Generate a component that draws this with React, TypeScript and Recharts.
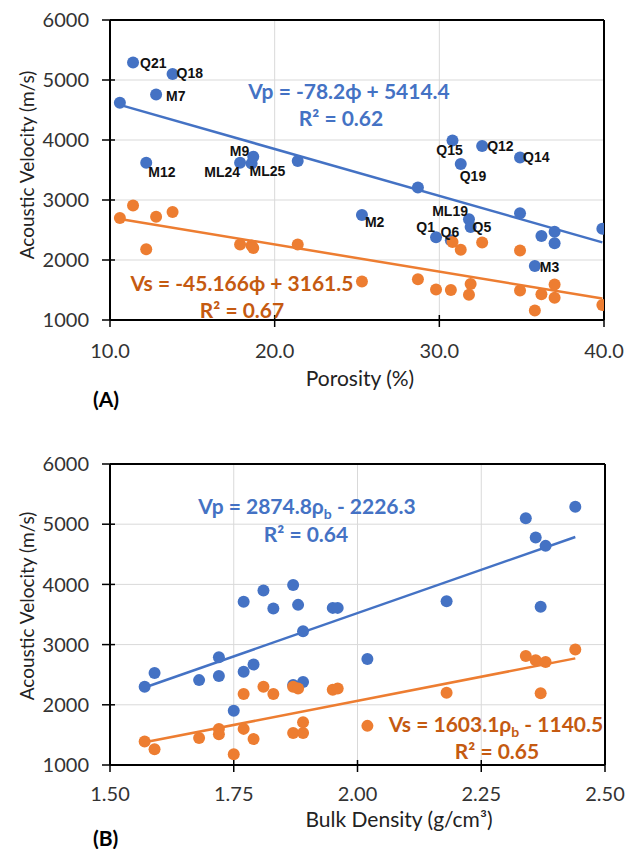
import React from 'react';
import { ScatterChart, Scatter, XAxis, YAxis, CartesianGrid, ReferenceLine } from 'recharts';

// ---------- Chart (A): velocity vs porosity ----------
const porosity = [10.6, 11.4, 12.2, 12.8, 13.8, 17.9, 18.6, 18.7, 21.4, 25.3, 28.7, 29.8, 30.7, 30.8, 31.3, 31.8, 31.9, 32.6, 34.9, 34.9, 35.8, 36.2, 37.0, 37.0, 39.9];
const vpPorosity = [4620, 5290, 3620, 4760, 5100, 3620, 3610, 3720, 3650, 2750, 3210, 2380, 2330, 3990, 3600, 2680, 2550, 3900, 3710, 2780, 1900, 2400, 2470, 2280, 2520];
const vsPorosity = [2700, 2910, 2180, 2720, 2800, 2260, 2240, 2200, 2260, 1640, 1680, 1510, 1500, 2300, 2170, 1420, 1600, 2290, 2160, 1490, 1160, 1430, 1590, 1370, 1250];
const sampleNames = ['', 'Q21', 'M12', 'M7', 'Q18', 'ML24', 'ML25', 'M9', '', 'M2', '', 'Q1', 'Q6', 'Q15', 'Q19', 'ML19', 'Q5', 'Q12', 'Q14', '', 'M3', '', '', '', ''];
const porosityTicks = [10, 20, 30, 40];

// ---------- Chart (B): velocity vs bulk density ----------
const density = [1.57, 1.59, 1.68, 1.72, 1.72, 1.75, 1.77, 1.77, 1.79, 1.81, 1.83, 1.87, 1.88, 1.89, 1.87, 1.89, 1.95, 1.96, 2.02, 2.18, 2.34, 2.36, 2.38, 2.37, 2.44];
const vpDensity = [2300, 2530, 2410, 2790, 2480, 1900, 3710, 2550, 2670, 3900, 3600, 3990, 3660, 3220, 2330, 2380, 3610, 3610, 2760, 3720, 5100, 4780, 4640, 3630, 5290];
const vsDensity = [1390, 1260, 1450, 1600, 1510, 1180, 2180, 1600, 1430, 2300, 2180, 2300, 2270, 1710, 1530, 1530, 2250, 2270, 1650, 2200, 2810, 2740, 2710, 2190, 2920];
const densityTicks = [1.5, 1.75, 2.0, 2.25, 2.5];

const velocityTicks = [1000, 2000, 3000, 4000, 5000, 6000];

// Trendline coefficients (as printed on the chart)
const vpPorosityFit = { slope: -78.2, intercept: 5414.4 };
const vsPorosityFit = { slope: -45.166, intercept: 3161.5 };
const vpDensityFit = { slope: 2874.8, intercept: -2226.3 };
const vsDensityFit = { slope: 1603.1, intercept: -1140.5 };

// Label placement for sample names: [dx, dy(baseline), anchor]
const labelPlacement: Record<string, [number, number, string]> = {
  Q21: [7, 5, 'start'],
  Q18: [4, 4, 'start'],
  M7: [10, 7, 'start'],
  M12: [2, 14, 'start'],
  M9: [-4, -1, 'end'],
  ML24: [0, 14, 'end'],
  ML25: [-2, 13, 'start'],
  Q15: [-3, 14, 'middle'],
  Q12: [5, 5, 'start'],
  Q14: [3, 5, 'start'],
  Q19: [-1, 17, 'start'],
  ML19: [-1, -3, 'end'],
  M2: [3, 12, 'start'],
  Q1: [-1, -5, 'end'],
  Q6: [-1, -3, 'middle'],
  Q5: [2, 5, 'start'],
  M3: [5, 6, 'start'],
};

const BLUE = '#4472C4';
const ORANGE = '#ED7D31';
const BLUE_TEXT = '#4472C4';
const ORANGE_TEXT = '#C55A11';
const TICK_FILL = '#333';
const TICK_FONT_SIZE = 20;

const build = (xs: number[], ys: number[], names?: string[]) =>
  xs.map((x, i) => ({ x, y: ys[i], name: names ? names[i] : '' }));

const fitSegment = (xs: number[], fit: { slope: number; intercept: number }) => {
  const x0 = Math.min(...xs);
  const x1 = Math.max(...xs);
  return [
    { x: x0, y: fit.slope * x0 + fit.intercept },
    { x: x1, y: fit.slope * x1 + fit.intercept },
  ];
};

const dot = (color: string) => (props: any) => {
  const { cx, cy } = props;
  if (cx == null || cy == null) return <g />;
  return <circle cx={cx} cy={cy} r={6} fill={color} />;
};

const nameLabel = (props: any) => {
  const { cx, cy, payload } = props;
  const name = payload && payload.name;
  if (!name || cx == null) return <g />;
  const p = labelPlacement[name] || [6, 5, 'start'];
  return (
    <text
      x={cx + p[0]}
      y={cy + p[1]}
      textAnchor={p[2] as any}
      fontFamily="Liberation Sans, Arial, sans-serif"
      fontWeight="bold"
      fontSize={14}
      fill="#111"
    >
      {name}
    </text>
  );
};

const axisLine = { stroke: '#000', strokeWidth: 2 };

const X_TICK_SIZE = 8;
const Y_TICK_SIZE = 8;
const Y_TICK_MARGIN = 13;

// Excel-style "cross" tick marks: drawn through the axis line
const makeXTick = (margin: number, digits: number) => (props: any) => {
  const { x, y, payload } = props;
  const ay = y - X_TICK_SIZE - margin;
  return (
    <g>
      <line x1={x} x2={x} y1={ay - 5} y2={ay + 7} stroke="#000" strokeWidth={1.5} />
      <text x={x} y={y} dy="0.71em" textAnchor="middle" fill={TICK_FILL} fontSize={TICK_FONT_SIZE} fontFamily="Lato">
        {Number(payload.value).toFixed(digits)}
      </text>
    </g>
  );
};

const yTick = (props: any) => {
  const { x, y, payload } = props;
  const ax = x + Y_TICK_SIZE + Y_TICK_MARGIN;
  return (
    <g>
      <line x1={ax - 8} x2={ax + 5} y1={y} y2={y} stroke="#000" strokeWidth={1.5} />
      <text x={x} y={y} dy="0.355em" textAnchor="end" fill={TICK_FILL} fontSize={TICK_FONT_SIZE} fontFamily="Lato">
        {payload.value}
      </text>
    </g>
  );
};

function PorosityChart() {
  const vp = build(porosity, vpPorosity, sampleNames);
  const vs = build(porosity, vsPorosity);
  return (
    <ScatterChart width={638} height={440} margin={{ top: 20, right: 34, left: 0, bottom: 90 }}>
      <CartesianGrid stroke="#d9d9d9" strokeWidth={1} />
      <ReferenceLine y={6000} stroke="#000" strokeWidth={2} />
      <ReferenceLine x={40} stroke="#000" strokeWidth={2} />
      <XAxis
        dataKey="x"
        type="number"
        domain={[10, 40]}
        ticks={porosityTicks}
        axisLine={axisLine}
        tickLine={false}
        tickSize={X_TICK_SIZE}
        tickMargin={16}
        tick={makeXTick(16, 1)}
        height={30}
        allowDataOverflow
      />
      <YAxis
        dataKey="y"
        type="number"
        domain={[1000, 6000]}
        ticks={velocityTicks}
        axisLine={axisLine}
        tickLine={false}
        tickSize={Y_TICK_SIZE}
        tickMargin={Y_TICK_MARGIN}
        tick={yTick}
        width={110}
        allowDataOverflow
      />
      <Scatter data={vp} fill={BLUE} shape={dot(BLUE)} isAnimationActive={false} />
      <Scatter data={vs} fill={ORANGE} shape={dot(ORANGE)} isAnimationActive={false} />
      <Scatter data={vp} fill="none" shape={nameLabel} isAnimationActive={false} />
      <ReferenceLine segment={fitSegment(porosity, vpPorosityFit)} stroke={BLUE} strokeWidth={2.5} />
      <ReferenceLine segment={fitSegment(porosity, vsPorosityFit)} stroke={ORANGE} strokeWidth={2.5} />
    </ScatterChart>
  );
}

function DensityChart() {
  const vp = build(density, vpDensity);
  const vs = build(density, vsDensity);
  return (
    <ScatterChart width={638} height={409} margin={{ top: 24, right: 33, left: 0, bottom: 54 }}>
      <CartesianGrid stroke="#d9d9d9" strokeWidth={1} />
      <ReferenceLine y={6000} stroke="#000" strokeWidth={2} />
      <ReferenceLine x={2.5} stroke="#000" strokeWidth={2} />
      <XAxis
        dataKey="x"
        type="number"
        domain={[1.5, 2.5]}
        ticks={densityTicks}
        axisLine={axisLine}
        tickLine={false}
        tickSize={X_TICK_SIZE}
        tickMargin={14}
        tick={makeXTick(14, 2)}
        height={30}
        allowDataOverflow
      />
      <YAxis
        dataKey="y"
        type="number"
        domain={[1000, 6000]}
        ticks={velocityTicks}
        axisLine={axisLine}
        tickLine={false}
        tickSize={Y_TICK_SIZE}
        tickMargin={Y_TICK_MARGIN}
        tick={yTick}
        width={110}
        allowDataOverflow
      />
      <Scatter data={vp} fill={BLUE} shape={dot(BLUE)} isAnimationActive={false} />
      <Scatter data={vs} fill={ORANGE} shape={dot(ORANGE)} isAnimationActive={false} />
      <ReferenceLine segment={fitSegment(density, vpDensityFit)} stroke={BLUE} strokeWidth={2.5} />
      <ReferenceLine segment={fitSegment(density, vsDensityFit)} stroke={ORANGE} strokeWidth={2.5} />
    </ScatterChart>
  );
}

function Overlay() {
  const eqFont = { fontFamily: 'Lato', fontWeight: 'bold' as const, fontSize: 21 };
  const yTitleFont = { fontFamily: 'Lato', fontSize: 19, fill: '#222' };
  const xTitleFont = { fontFamily: 'Lato', fontSize: 21, fill: '#222' };
  return (
    <svg width={638} height={849} style={{ position: 'absolute', left: 0, top: 0, pointerEvents: 'none' }}>
      {/* chart A */}
      <text x={34} y={165} transform="rotate(-90 34 165)" textAnchor="middle" {...yTitleFont}>Acoustic Velocity (m/s)</text>
      <text x={360} y={386} textAnchor="middle" {...xTitleFont}>Porosity (%)</text>
      <text x={93} y={407} fontFamily="Lato" fontWeight="bold" fontSize={21} fill="#000">(A)</text>
      <text x={349} y={99} textAnchor="middle" fill={BLUE_TEXT} {...eqFont}>Vp = -78.2ϕ + 5414.4</text>
      <text x={341} y={126} textAnchor="middle" fill={BLUE_TEXT} {...eqFont}>R² = 0.62</text>
      <text x={242} y={291} textAnchor="middle" fill={ORANGE_TEXT} {...eqFont}>Vs = -45.166ϕ + 3161.5</text>
      <text x={242} y={318} textAnchor="middle" fill={ORANGE_TEXT} {...eqFont}>R² = 0.67</text>
      {/* chart B */}
      <text x={34} y={606} transform="rotate(-90 34 606)" textAnchor="middle" {...yTitleFont}>Acoustic Velocity (m/s)</text>
      <text x={399} y={827} textAnchor="middle" {...xTitleFont}>Bulk Density (g/cm³)</text>
      <text x={93} y={846} fontFamily="Lato" fontWeight="bold" fontSize={21} fill="#000">(B)</text>
      <text x={307} y={514} textAnchor="middle" fill={BLUE_TEXT} {...eqFont}>
        Vp = 2874.8ρ<tspan fontSize={14} dy={5}>b</tspan><tspan dy={-5}> - 2226.3</tspan>
      </text>
      <text x={306} y={542} textAnchor="middle" fill={BLUE_TEXT} {...eqFont}>R² = 0.64</text>
      <text x={496} y={732} textAnchor="middle" fill={ORANGE_TEXT} {...eqFont}>
        Vs = 1603.1ρ<tspan fontSize={14} dy={5}>b</tspan><tspan dy={-5}> - 1140.5</tspan>
      </text>
      <text x={497} y={759} textAnchor="middle" fill={ORANGE_TEXT} {...eqFont}>R² = 0.65</text>
    </svg>
  );
}

export default function App() {
  return (
    <div style={{ position: 'absolute', left: 0, top: 0, width: 638, height: 849, background: '#fff', overflow: 'hidden' }}>
      <div style={{ position: 'absolute', left: 0, top: 0 }}>
        <PorosityChart />
      </div>
      <div style={{ position: 'absolute', left: 0, top: 440 }}>
        <DensityChart />
      </div>
      <Overlay />
    </div>
  );
}
